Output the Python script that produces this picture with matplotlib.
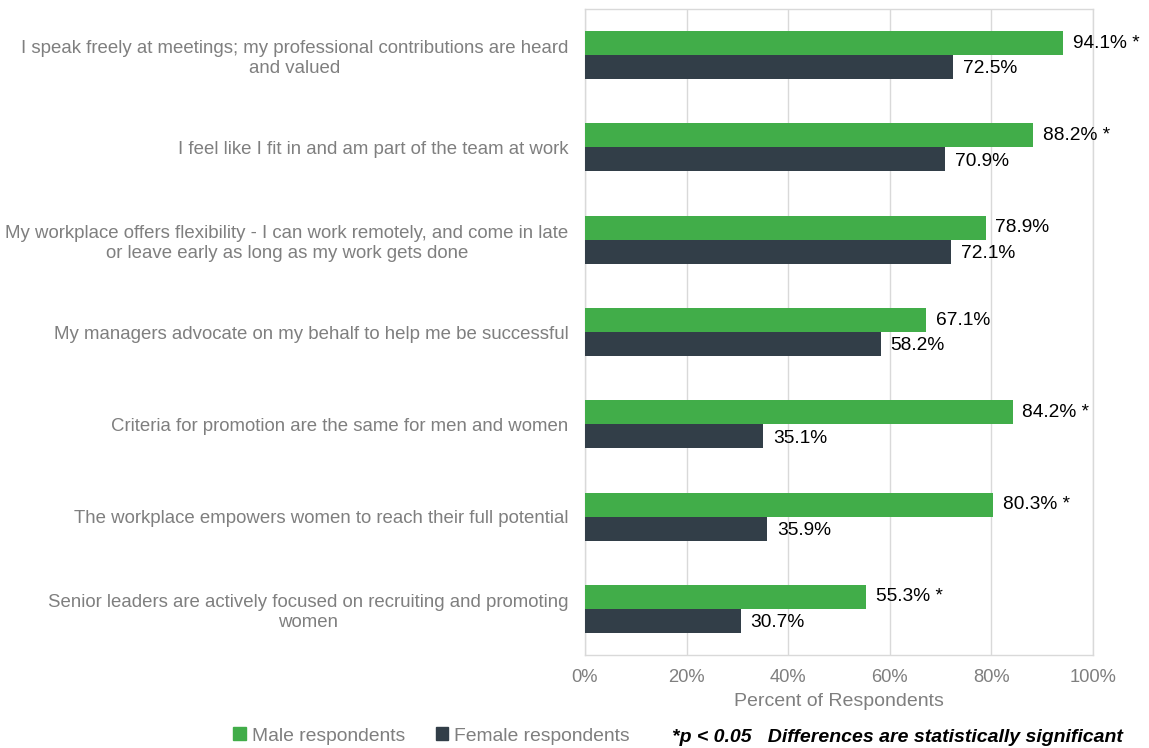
import matplotlib
matplotlib.use("Agg")
import matplotlib.pyplot as plt
import numpy as np
from matplotlib.patches import Patch

plt.rcParams['font.family'] = ['Liberation Sans', 'DejaVu Sans']

categories = [
    "I speak freely at meetings; my professional contributions are heard\nand valued",
    "I feel like I fit in and am part of the team at work",
    "My workplace offers flexibility - I can work remotely, and come in late\nor leave early as long as my work gets done",
    "My managers advocate on my behalf to help me be successful",
    "Criteria for promotion are the same for men and women",
    "The workplace empowers women to reach their full potential",
    "Senior leaders are actively focused on recruiting and promoting\nwomen",
]
male = [94.1, 88.2, 78.9, 67.1, 84.2, 80.3, 55.3]
female = [72.5, 70.9, 72.1, 58.2, 35.1, 35.9, 30.7]
male_sig = [True, True, False, False, True, True, True]
xticks = [0, 20, 40, 60, 80, 100]

GREEN = "#41AD49"
DARK = "#323E48"
GREY = "#7F7F7F"

fig = plt.figure(figsize=(11.49, 7.48), dpi=100)
ax = fig.add_axes([585 / 1149, 1 - 655 / 748, (1093 - 585) / 1149, (655 - 9) / 748])

n = len(categories)
y = np.arange(n)
h = 0.26
ax.barh(y - h / 2, male, height=h, color=GREEN, zorder=3)
ax.barh(y + h / 2, female, height=h, color=DARK, zorder=3)

for yi, v, s in zip(y, male, male_sig):
    ax.text(v + 1.9, yi - h / 2, f"{v:.1f}%" + (" *" if s else ""),
            va="center", ha="left", fontsize=13.8, color="black")
for yi, v in zip(y, female):
    ax.text(v + 1.9, yi + h / 2 + 0.02, f"{v:.1f}%",
            va="center", ha="left", fontsize=13.8, color="black")

ax.set_ylim(n - 0.5, -0.5)
ax.set_xlim(0, 100)
ax.set_yticks(y)
ax.set_yticklabels(categories, fontsize=13.4, color=GREY, ha="right",
                   multialignment="center", linespacing=1.25)
ax.set_xticks(xticks)
ax.set_xticklabels([f"{t}%" for t in xticks], fontsize=13.2, color=GREY)
ax.tick_params(axis="both", length=0)
ax.tick_params(axis="y", pad=12)
ax.tick_params(axis="x", pad=10)
ax.set_xlabel("Percent of Respondents", fontsize=14, color=GREY, labelpad=5)
ax.grid(axis="x", color="#D9D9D9", linewidth=1, zorder=0)
for sp in ax.spines.values():
    sp.set_color("#D9D9D9")
    sp.set_linewidth(1)

handles = [Patch(color=GREEN), Patch(color=DARK)]
fig.legend(handles, ["Male respondents", "Female respondents"],
           loc="center left", bbox_to_anchor=(216 / 1149, 1 - 736 / 748),
           ncol=2, frameon=False, fontsize=13.9, handlelength=0.65, handleheight=0.65,
           handletextpad=0.3, columnspacing=1.6, labelcolor=GREY)
fig.text(672 / 1149, 1 - 737 / 748, "*p < 0.05   Differences are statistically significant",
         fontsize=14, fontweight="bold", fontstyle="italic", color="black",
         va="center", ha="left")

fig.savefig("out.png", dpi=100, facecolor="white")
